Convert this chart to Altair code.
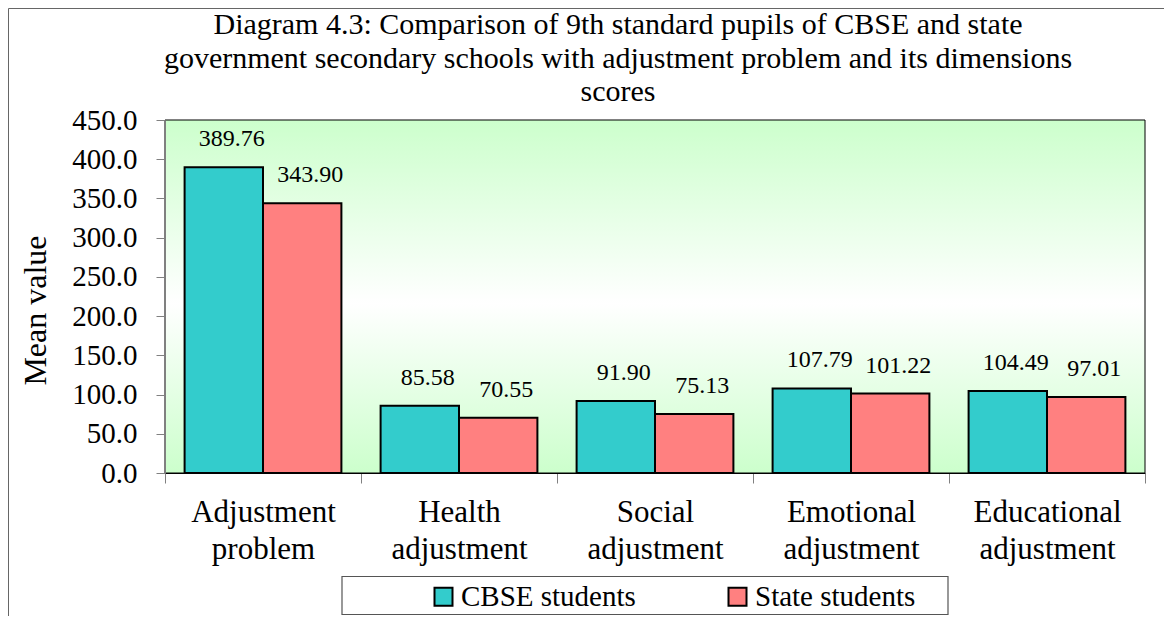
import altair as alt
import pandas as pd

categories = ["Adjustment problem", "Health adjustment", "Social adjustment",
              "Emotional adjustment", "Educational adjustment"]
series = ["CBSE students", "State students"]
cbse_values = [389.76, 85.58, 91.90, 107.79, 104.49]
state_values = [343.90, 70.55, 75.13, 101.22, 97.01]
y_ticks = [0, 50, 100, 150, 200, 250, 300, 350, 400, 450]
colors = ["#33CCCC", "#FF8080"]
title_lines = [
    "Diagram 4.3: Comparison of 9th standard pupils of CBSE and state",
    "government secondary schools with adjustment problem and its dimensions",
    "scores",
]

rows = []
for c, v in zip(categories, cbse_values):
    rows.append({"category": c, "series": series[0], "value": v})
for c, v in zip(categories, state_values):
    rows.append({"category": c, "series": series[1], "value": v})
df = pd.DataFrame(rows)

FONT = "Liberation Serif"
W, H = 980, 353

one = alt.Data(values=[{"k": 1}])

outer_frame = alt.Chart(one).mark_rect(
    fill="white", stroke="#666666", strokeWidth=1
).encode(
    x=alt.value(-156.5), x2=alt.value(1100),
    y=alt.value(-111.5), y2=alt.value(700),
)

title_text = alt.Chart(one).mark_text(
    font=FONT, fontSize=30, color="black", align="center",
    baseline="alphabetic", lineHeight=33.5,
).encode(
    x=alt.value(453), y=alt.value(-86), text=alt.value(title_lines),
)

gradient_bg = alt.Chart(one).mark_rect(
    fill=alt.LinearGradient(
        gradient="linear",
        stops=[
            alt.GradientStop(color="#CCFFCC", offset=0),
            alt.GradientStop(color="#FFFFFF", offset=0.52),
            alt.GradientStop(color="#CCFFCC", offset=1),
        ],
        x1=0, x2=0, y1=0, y2=1,
    ),
    stroke="black", strokeWidth=1,
).encode(
    x=alt.value(0), x2=alt.value(W), y=alt.value(0), y2=alt.value(H),
)

legend_box = alt.Chart(one).mark_rect(
    fill="white", stroke="#555555", strokeWidth=1.2
).encode(
    x=alt.value(177), x2=alt.value(783), y=alt.value(456.5), y2=alt.value(494.5),
)

y_scale = alt.Scale(domain=[0, 450], nice=False, zero=True)
x_scale = alt.Scale(paddingInner=0, paddingOuter=0)

x_axis = alt.Axis(
    title=None, labelAngle=0, labelFont=FONT, labelFontSize=31,
    labelColor="black", labelExpr="split(datum.label, ' ')",
    labelLineHeight=37, tickBand="extent", tickSize=10,
    tickColor="#808080", domainColor="black", labelPadding=14,
    labelLimit=400, labelOverlap=False, zindex=1,
)
y_axis = alt.Axis(
    values=y_ticks, format=".1f", labelFont=FONT, labelFontSize=29,
    labelColor="black", tickSize=9, tickColor="#808080",
    domainColor="#808080", labelPadding=19, grid=False,
    labelOverlap=False, labelFlush=False,
    title="Mean value", titleFont=FONT, titleFontSize=32,
    titleFontWeight="normal", titleColor="black", titleX=-120,
    titleY=190, titleAngle=270, titleBaseline="alphabetic",
    titleAlign="center", zindex=1,
)

x_enc = alt.X("category:N", sort=categories, scale=x_scale, axis=x_axis)
xoff_enc = alt.XOffset("series:N", sort=series,
                       scale=alt.Scale(paddingInner=0, paddingOuter=0.25))
y_enc = alt.Y("value:Q", scale=y_scale, axis=y_axis)

bars = alt.Chart(df).mark_bar(stroke="black", strokeWidth=2).encode(
    x=x_enc,
    xOffset=xoff_enc,
    y=y_enc,
    color=alt.Color(
        "series:N", sort=series,
        scale=alt.Scale(domain=series, range=colors),
        legend=alt.Legend(
            orient="none", legendX=264, legendY=462, direction="horizontal",
            title=None, symbolType="square", symbolSize=324,
            symbolStrokeColor="black", symbolStrokeWidth=2,
            labelFont=FONT, labelFontSize=29, labelColor="black",
            labelOffset=3, columnPadding=87, padding=0, labelLimit=400,
        ),
    ),
)

labels = alt.Chart(df).mark_text(
    font=FONT, fontSize=24, baseline="alphabetic", dy=-21, dx=8, color="black"
).encode(
    x=x_enc,
    xOffset=xoff_enc,
    y=y_enc,
    text=alt.Text("value:Q", format=".2f"),
)

chart = alt.layer(
    outer_frame, title_text, gradient_bg, legend_box, bars, labels
).properties(
    width=W, height=H,
    autosize=alt.AutoSizeParams(type="none"),
    padding={"left": 157, "top": 112, "right": 19, "bottom": 143},
).configure_view(stroke=None).configure(background="white")

chart.save("out.html", embed_options={"renderer": "svg", "actions": False})
